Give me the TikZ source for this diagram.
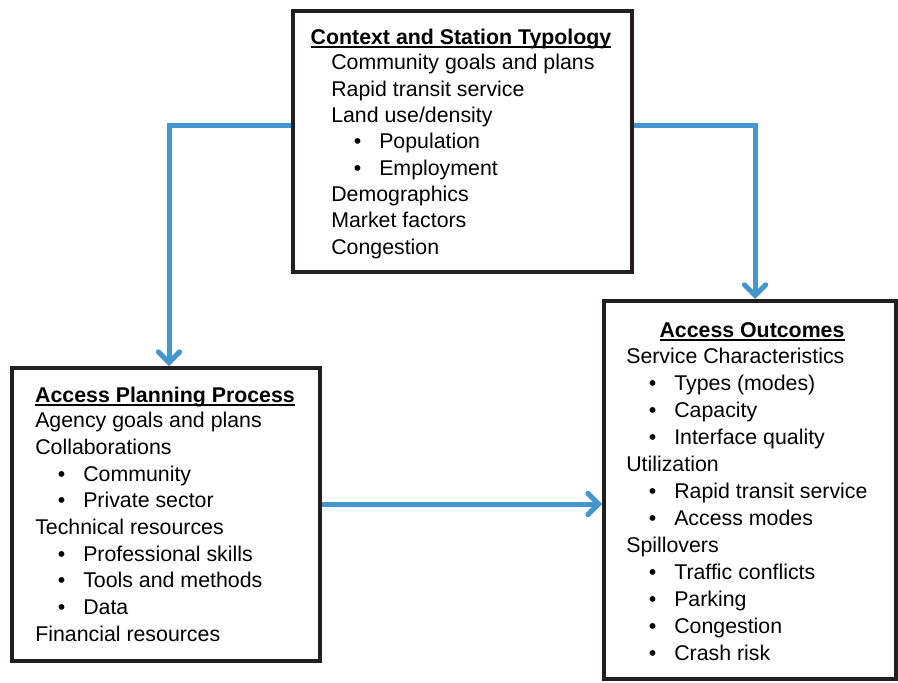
\documentclass[tikz,border=0pt]{standalone}
\usepackage{fontspec}
\setmainfont{Liberation Sans}
\usetikzlibrary{arrows.meta,positioning}
\definecolor{flowblue}{RGB}{68,150,206}
\definecolor{boxblack}{RGB}{35,31,32}
\newcommand{\itm}{\makebox[36pt][l]{\hspace{17pt}\textbullet}}
\newcommand{\headline}[1]{\setbox0\hbox{#1}\rlap{\rule[-2.9pt]{\wd0}{1.4pt}}\box0}

\begin{document}
\begin{tikzpicture}[x=0.75pt,y=-0.75pt,
  box/.style={draw=boxblack, line width=3pt, inner sep=0pt},
  title/.style={anchor=base, inner sep=0pt, font=\fontsize{16}{19.75}\selectfont\bfseries},
  items/.style={anchor=base west, align=left, inner sep=0pt, font=\fontsize{16}{#1}\selectfont}]
\tikzstyle{flow}=[draw=flowblue, line width=3.75pt, -{Straight Barb[length=8pt,width=16pt,line cap=round]}]
\useasboundingbox (0,0) rectangle (898,682);
% boxes
\node[box, minimum width=254.25pt, minimum height=195.75pt] (top) at (462.5,141.5) {};
\node[box, minimum width=231pt, minimum height=219.75pt] (plan) at (166,514.5) {};
\node[box, minimum width=219pt, minimum height=283.5pt] (outc) at (750,490) {};
% texts (lists placed by the baseline of their last line)
\node[title] (toptitle) at (461,44) {\headline{Context and Station Typology}};
\node[items=19.75pt] (toplist) at (331,254.3) {Community goals and plans\\ Rapid transit service\\ Land use/density\\
  \itm Population\\ \itm Employment\\ Demographics\\ Market factors\\ Congestion};
\node[title] (plantitle) at (165,402) {\headline{Access Planning Process}};
\node[items=20pt] (planlist) at (35,641.3) {Agency goals and plans\\ Collaborations\\ \itm Community\\ \itm Private sector\\
  Technical resources\\ \itm Professional skills\\ \itm Tools and methods\\ \itm Data\\ Financial resources};
\node[title] (outctitle) at (752,337) {\headline{Access Outcomes}};
\node[items=20.25pt] (outclist) at (626,660) {Service Characteristics\\ \itm Types (modes)\\ \itm Capacity\\ \itm Interface quality\\
  Utilization\\ \itm Rapid transit service\\ \itm Access modes\\ Spillovers\\ \itm Traffic conflicts\\ \itm Parking\\
  \itm Congestion\\ \itm Crash risk};
% arrows
\coordinate (lvl) at (0,125);
\coordinate (mid) at (0,504);
\draw[flow] (top.west |- lvl) -| ([xshift=2.25pt]plan.north);
\draw[flow] (top.east |- lvl) -| ([xshift=3.75pt]outc.north);
\draw[flow] (plan.east |- mid) -- (outc.west |- mid);
\end{tikzpicture}
\end{document}
